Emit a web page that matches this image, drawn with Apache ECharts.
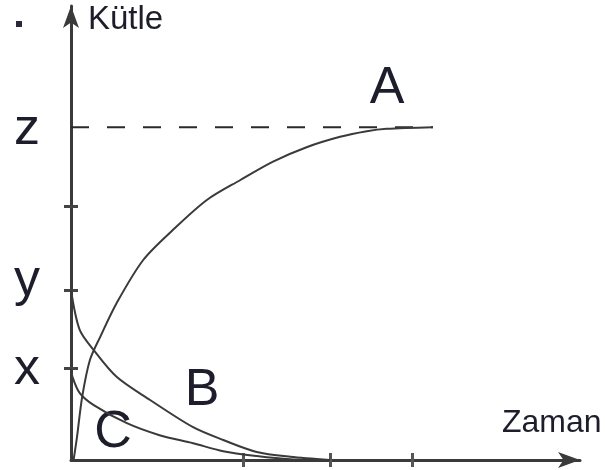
<!DOCTYPE html>
<html>
<head>
<meta charset="utf-8">
<script src="https://cdn.jsdelivr.net/npm/echarts@6/dist/echarts.min.js"></script>
<style>
  html, body { margin: 0; padding: 0; background: #fff; }
  #main { width: 611px; height: 470px; }
</style>
</head>
<body>
<div id="main"></div>
<script>
// eksen değerleri (birim: x ekseni ~86px, y ekseni ~80px)
const xTickValues = [2, 3.01, 3.97];
const yTickValues = [1.15, 2.125, 3.175];
const levelNames = ['x', 'y', 'z'];
const levelValues = [1.15, 2.125, 4.16];

// A eğrisi
const curveAx = [0.03, 0.07, 0.13, 0.22, 0.34, 0.53, 0.84, 1.19, 1.58, 1.97, 2.35, 2.74, 3.13, 3.44, 3.67, 4.21];
const curveAy = [0, 0.29, 0.79, 1.25, 1.54, 1.96, 2.5, 2.88, 3.25, 3.5, 3.73, 3.91, 4.04, 4.11, 4.14, 4.16];
// B eğrisi
const curveBx = [0, 0.1, 0.26, 0.53, 0.92, 1.42, 1.77, 2.16, 2.55, 3.01];
const curveBy = [2.125, 1.63, 1.38, 1.04, 0.75, 0.41, 0.25, 0.1, 0.04, 0];
// C eğrisi
const curveCx = [0, 0.02, 0.1, 0.26, 0.65, 1.03, 1.42, 1.77, 2.16, 2.55, 3.01];
const curveCy = [1.15, 1.03, 0.84, 0.69, 0.46, 0.31, 0.21, 0.11, 0.05, 0.01, 0];
// z seviyesindeki kesikli çizgi
const dashX = [0, 4.21];

const pairs = (xs, ys) => xs.map((v, i) => [v, ys[i]]);
const zLevel = levelValues[2];

const lineColor = '#3a3a3a';
const textColor = '#1d1d2b';
const bigFont = 'Liberation Sans';

const curve = (name, data) => ({
    name: name,
    type: 'line',
    data: data,
    showSymbol: false,
    smooth: 0.3,
    clip: false,
    lineStyle: { color: lineColor, width: 2 },
    xAxisIndex: 0,
    yAxisIndex: 0
});

const myChart = echarts.init(document.getElementById('main'));

const option = {
    animation: false,
    backgroundColor: '#fff',
    grid: { left: 71, right: 31, top: 6, bottom: 10, containLabel: false },
    xAxis: [{
        type: 'value',
        min: 0,
        max: 5.92,
        splitLine: { show: false },
        axisLine: { show: true, lineStyle: { color: lineColor, width: 3 }, symbol: ['none', 'arrow'], symbolSize: [12, 22] },
        axisTick: { show: true, length: 7, customValues: xTickValues, lineStyle: { color: '#555', width: 3 } },
        axisLabel: { show: false }
    }, {
        type: 'value',
        min: 0,
        max: 5.92,
        position: 'bottom',
        splitLine: { show: false },
        axisLine: { show: false },
        axisTick: { show: true, inside: true, length: 7, customValues: xTickValues, lineStyle: { color: '#555', width: 3 } },
        axisLabel: { show: false }
    }],
    yAxis: [{
        type: 'value',
        min: 0,
        max: 5.675,
        splitLine: { show: false },
        axisLine: { show: true, lineStyle: { color: lineColor, width: 3 }, symbol: ['none', 'arrow'], symbolSize: [12, 22] },
        axisTick: { show: true, length: 7, customValues: yTickValues, lineStyle: { color: '#444', width: 3 } },
        axisLabel: {
            show: true,
            customValues: levelValues,
            margin: 31,
            formatter: (v) => {
                const i = levelValues.indexOf(v);
                const n = levelNames[i];
                return n === 'y' ? '{up|y}' : '{n|' + n + '}';
            },
            rich: {
                n: { fontFamily: bigFont, fontSize: 52, color: textColor, padding: [4, 0, 0, 0] },
                up: { fontFamily: bigFont, fontSize: 52, color: textColor, padding: [0, 0, 18, 0] }
            }
        }
    }, {
        type: 'value',
        min: 0,
        max: 5.675,
        position: 'left',
        splitLine: { show: false },
        axisLine: { show: false },
        axisTick: { show: true, inside: true, length: 7, customValues: yTickValues, lineStyle: { color: '#444', width: 3 } },
        axisLabel: { show: false }
    }],
    series: [
        {
            name: 'z',
            type: 'line',
            data: dashX.map(v => [v, zLevel]),
            showSymbol: false,
            clip: false,
            lineStyle: { color: '#2a2a2a', width: 2, type: [18, 18] }
        },
        curve('A', pairs(curveAx, curveAy)),
        curve('B', pairs(curveBx, curveBy)),
        curve('C', pairs(curveCx, curveCy))
    ],
    graphic: [
        { type: 'rect', shape: { x: 16, y: 21, width: 6, height: 6 }, style: { fill: '#2a2a3a' } },
        { type: 'text', x: 88, y: 20, style: { text: 'Kütle', font: '33px "Liberation Sans"', fill: textColor, verticalAlign: 'middle', align: 'left' } },
        { type: 'text', x: 502, y: 423, style: { text: 'Zaman', font: '32px "Liberation Sans"', fill: textColor, verticalAlign: 'middle', align: 'left' } },
        { type: 'text', x: 387, y: 89, style: { text: 'A', font: '52px "Liberation Sans"', fill: textColor, verticalAlign: 'middle', align: 'center' } },
        { type: 'text', x: 202, y: 391, style: { text: 'B', font: '52px "Liberation Sans"', fill: textColor, verticalAlign: 'middle', align: 'center' } },
        { type: 'text', x: 113, y: 433, style: { text: 'C', font: '52px "Liberation Sans"', fill: textColor, verticalAlign: 'middle', align: 'center' } }
    ]
};

myChart.setOption(option);
</script>
</body>
</html>
